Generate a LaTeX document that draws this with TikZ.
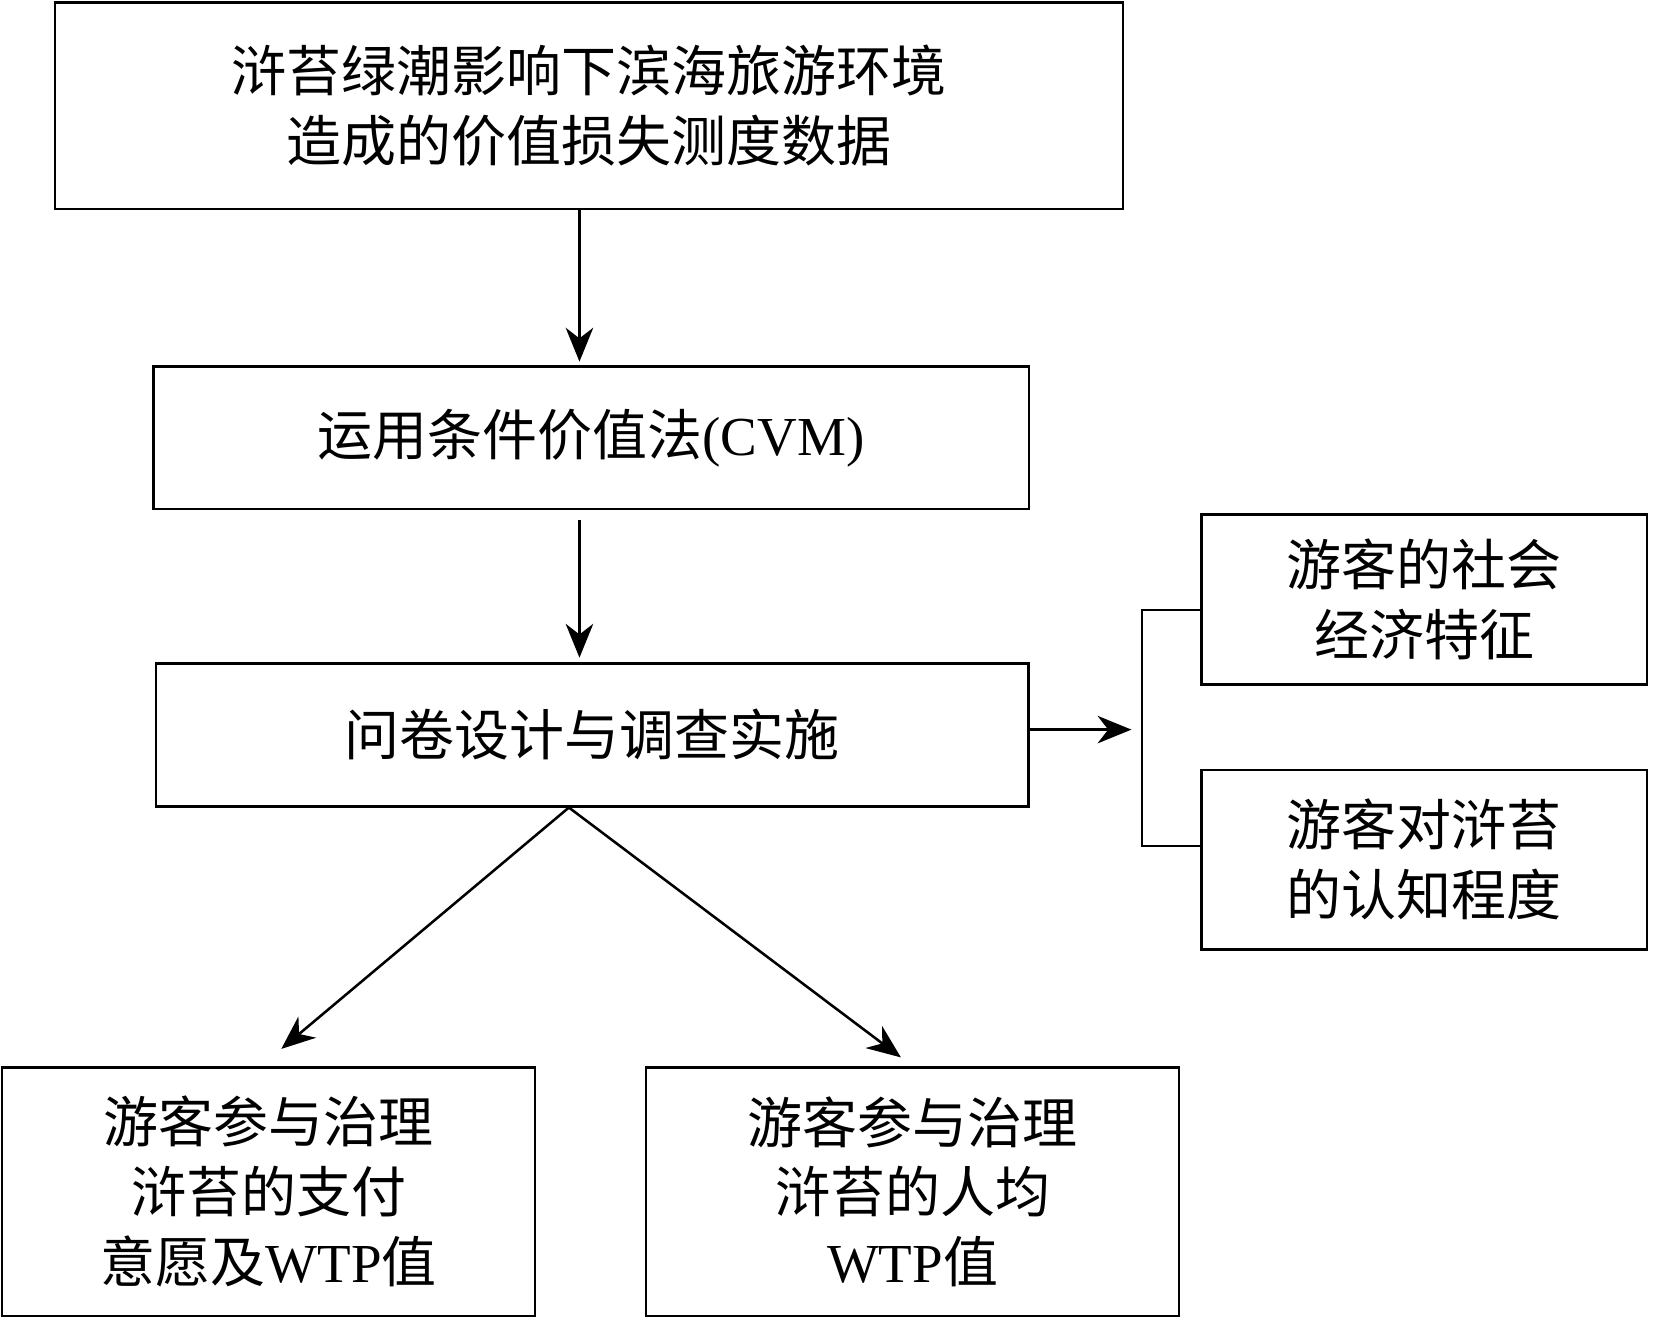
\documentclass[tikz,border=0pt]{standalone}
\usepackage{fontspec}
\setmainfont{Liberation Serif}
\newfontfamily\cjk{Noto Sans CJK SC}
\usetikzlibrary{arrows.meta}
\begin{document}
\begin{tikzpicture}[x=0.5pt,y=-0.5pt,
 bx/.style={draw,line width=1.2pt,inner sep=0pt,align=center,font=\fontsize{26}{33}\selectfont\cjk},
 ar/.style={line width=1.2pt,-{Stealth[length=16pt,width=13pt,inset=5pt]}}]
\useasboundingbox (0,0) rectangle (1568,1247);
\node[bx,minimum width=505pt,minimum height=97.5pt] (a) at (557,100) {浒苔绿潮影响下滨海旅游环境\\造成的价值损失测度数据};
\node[bx,minimum width=414pt,minimum height=67.5pt] (b) at (559,414) {运用条件价值法\rmfamily(CVM)};
\node[bx,minimum width=412.5pt,minimum height=67.5pt] (c) at (560,695) {问卷设计与调查实施};
\node[bx,minimum width=210.5pt,minimum height=80.5pt] (d) at (1347,567) {游客的社会\\经济特征};
\node[bx,minimum width=210.5pt,minimum height=85pt] (e) at (1347,813) {游客对浒苔\\的认知程度};
\node[bx,minimum width=252pt,minimum height=117.5pt] (f) at (254,1127) {游客参与治理\\浒苔的支付\\意愿及{\rmfamily WTP}值};
\node[bx,minimum width=252pt,minimum height=117.5pt] (g) at (863,1127) {游客参与治理\\浒苔的人均\\{\rmfamily WTP}值};
\coordinate (br) at (1070,690);
\draw[ar] (a.south -| 548,0) -- (548,342);
\draw[ar] (548,492) -- (548,622);
\draw[ar] (c.east |- 0,690) -- (br);
\draw[line width=1.2pt] (d.west |- 0,577) -| (1080,800) -- (e.west |- 0,800);
\draw[ar] (c.south -| 538,0) -- (266,992);
\draw[ar] (c.south -| 538,0) -- (852,1000);
\end{tikzpicture}
\end{document}
